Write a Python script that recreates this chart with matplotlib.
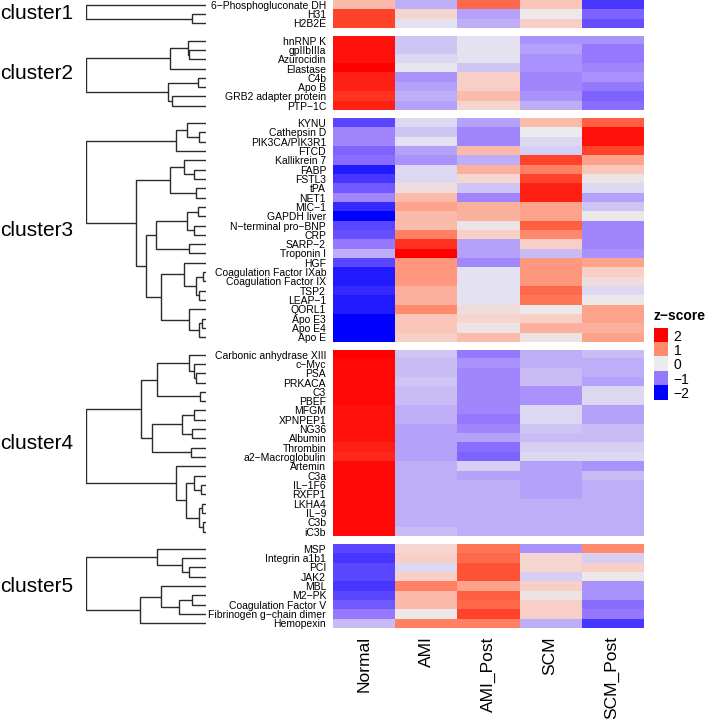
import numpy as np
import matplotlib
matplotlib.use("Agg")
import matplotlib.pyplot as plt
from matplotlib.colors import LinearSegmentedColormap, Normalize

plt.rcParams['font.family'] = ['Liberation Sans', 'DejaVu Sans']

# ---- data ----
groups = ["Normal", "AMI", "AMI_Post", "SCM", "SCM_Post"]

cluster_names = ["cluster1", "cluster2", "cluster3", "cluster4", "cluster5"]

rows_c1 = ["6−Phosphogluconate DH", "H31", "H2B2E"]
vals_c1 = [[0.6, -0.6, 1.3, 0.5, -1.6],
           [1.6, 0.3, -0.7, 0.05, -1.2],
           [1.6, -0.1, -0.6, 0.4, -1.4]]

rows_c2 = ["hnRNP K", "gpIIbIIIa", "Azurocidin", "Elastase", "C4b", "Apo B",
           "GRB2 adapter protein", "PTP−1C"]
vals_c2 = [[1.9, -0.4, -0.1, -0.8, -0.8],
           [1.9, -0.4, -0.1, -0.7, -1.0],
           [1.9, -0.2, -0.1, -0.8, -1.0],
           [2.0, -0.05, -0.4, -0.8, -0.9],
           [1.8, -0.8, 0.4, -0.9, -0.8],
           [1.8, -0.7, 0.4, -0.9, -1.0],
           [1.7, -0.6, 0.6, -0.8, -1.2],
           [1.8, -0.7, 0.3, -0.6, -1.1]]

rows_c3 = ["KYNU", "Cathepsin D", "PIK3CA/PIK3R1", "FTCD", "Kallikrein 7", "FABP",
           "FSTL3", "tPA", "NET1", "MIC−1", "GAPDH liver", "N−terminal pro−BNP", "CRP",
           "SARP−2", "Troponin I", "HGF", "Coagulation Factor IXab",
           "Coagulation Factor IX", "TSP2", "LEAP−1", "QORL1", "Apo E3", "Apo E4", "Apo E"]
vals_c3 = [[-1.5, -0.2, -0.7, 0.6, 1.4],
           [-0.9, -0.4, -0.9, 0.0, 1.9],
           [-0.9, -0.1, -0.9, -0.2, 1.9],
           [-1.2, -0.7, 0.6, -0.3, 1.6],
           [-1.1, -0.8, -0.6, 1.6, 0.8],
           [-1.8, -0.2, 0.7, 1.1, 0.5],
           [-1.6, -0.2, 0.3, 1.6, 0.1],
           [-1.3, 0.2, -0.4, 1.8, -0.2],
           [-0.9, 0.6, -0.9, 1.8, -0.7],
           [-1.7, 0.8, 0.7, 0.8, -0.4],
           [-2.0, 0.6, 0.7, 0.8, 0.05],
           [-1.5, 0.6, 0.1, 1.4, -0.9],
           [-1.4, 1.1, 0.4, 1.0, -0.9],
           [-1.0, 1.7, -0.7, 0.4, -0.9],
           [-0.6, 2.0, -0.7, -0.5, -0.8],
           [-1.5, 0.9, -0.9, 0.9, 0.8],
           [-1.8, 0.9, -0.1, 0.9, 0.4],
           [-1.8, 0.9, -0.1, 0.9, 0.2],
           [-1.7, 0.7, -0.1, 1.3, -0.2],
           [-1.8, 0.7, -0.1, 1.2, 0.05],
           [-1.8, 1.0, 0.2, 0.05, 0.8],
           [-2.0, 0.5, 0.3, 0.4, 0.8],
           [-2.0, 0.5, 0.1, 0.7, 0.7],
           [-2.0, 0.4, 0.6, 0.1, 0.8]]

rows_c4 = ["Carbonic anhydrase XIII", "c−Myc", "PSA", "PRKACA", "C3", "PBEF", "MFGM",
           "XPNPEP1", "NG36", "Albumin", "Thrombin", "a2−Macroglobulin", "Artemin", "C3a",
           "IL−1F6", "RXFP1", "LKHA4", "IL−9", "C3b", "iC3b"]
vals_c4 = [[2.0, -0.4, -1.0, -0.6, -0.5],
           [1.95, -0.5, -0.8, -0.6, -0.6],
           [1.95, -0.5, -0.9, -0.5, -0.6],
           [1.95, -0.4, -0.9, -0.5, -0.7],
           [1.95, -0.5, -0.9, -0.8, -0.2],
           [1.95, -0.5, -0.9, -0.8, -0.2],
           [1.9, -0.6, -0.9, -0.2, -0.7],
           [1.9, -0.6, -1.0, -0.2, -0.7],
           [1.9, -0.7, -0.9, -0.4, -0.5],
           [1.9, -0.7, -0.7, -0.5, -0.5],
           [1.8, -0.7, -1.1, -0.3, -0.3],
           [1.75, -0.7, -1.2, -0.2, -0.2],
           [1.95, -0.6, -0.3, -0.7, -0.8],
           [1.95, -0.6, -0.7, -0.7, -0.5],
           [1.95, -0.6, -0.6, -0.7, -0.6],
           [1.95, -0.6, -0.6, -0.7, -0.6],
           [1.95, -0.6, -0.6, -0.6, -0.6],
           [1.95, -0.6, -0.6, -0.6, -0.6],
           [1.95, -0.6, -0.6, -0.6, -0.6],
           [1.95, -0.5, -0.6, -0.6, -0.6]]

rows_c5 = ["MSP", "Integrin a1b1", "PCI", "JAK2", "MBL", "M2−PK", "Coagulation Factor V",
           "Fibrinogen g−chain dimer", "Hemopexin"]
vals_c5 = [[-1.5, 0.3, 1.2, -0.8, 1.0],
           [-1.6, 0.4, 1.3, 0.3, -0.3],
           [-1.5, -0.2, 1.5, 0.3, 0.4],
           [-1.5, 0.4, 1.5, -0.3, 0.05],
           [-1.6, 1.1, 0.8, 0.4, -0.8],
           [-1.5, 0.6, 1.4, 0.1, -0.8],
           [-1.3, 0.6, 1.3, 0.4, -1.1],
           [-1.0, 0.05, 1.6, 0.4, -1.0],
           [-0.5, 1.1, 1.1, -0.6, -1.6]]

# dendrograms: (merge height, left, right); ints are leaf rows
tree_c1 = (1.0, 0, (0.12, 1, 2))
tree_c2 = (1.0, (0.30, (0.15, 0, (0.14, 1, 2)), 3),
           (0.32, (0.07, 4, 5), (0.28, 6, 7)))
tree_c3 = (1.0,
           (0.25, (0.16, 0, (0.055, 1, 2)), 3),
           (0.58,
            (0.30, (0.185, 4, (0.10, 5, 6)), (0.083, 7, 8)),
            (0.50,
             (0.42, (0.157, (0.064, 9, 10), (0.10, 11, 12)), (0.138, 13, 14)),
             (0.373, (0.18, 15, (0.083, (0.028, 16, 17), (0.055, 18, 19))),
              (0.144, 20, (0.061, (0.033, 21, 22), 23))))))
tree_c4 = (1.0,
           (0.54, (0.41, (0.138, 0, (0.10, 1, (0.083, 2, 3))), (0.047, 4, 5)),
            (0.45, (0.20, (0.10, 6, 7), (0.116, 8, 9)), (0.124, 10, 11))),
           (0.254, 12, (0.166, (0.10, 13, (0.041, 14, 15)),
                        (0.061, (0.036, 16, 17), (0.028, 18, 19)))))
tree_c5 = (1.0, (0.41, 0, (0.20, 1, (0.144, 2, 3))),
           (0.55, (0.373, 4, (0.229, (0.116, 5, 6), 7)), 8))

legend_vals = [2, 1, 0, -1, -2]

clusters = [(rows_c1, vals_c1, tree_c1), (rows_c2, vals_c2, tree_c2),
            (rows_c3, vals_c3, tree_c3), (rows_c4, vals_c4, tree_c4),
            (rows_c5, vals_c5, tree_c5)]

# ---- style ----
# extra stops make the ramp lighter in between, like a LAB colour ramp
cmap = LinearSegmentedColormap.from_list(
    "zs", [(0.0, "#0000FF"), (0.125, "#5A46FF"), (0.25, "#9678FF"),
           (0.375, "#C9BCF6"), (0.5, "#EBEBEF"), (0.625, "#FAC8BC"),
           (0.75, "#FF8C6E"), (0.875, "#FF5536"), (1.0, "#FF0000")])
norm = Normalize(-2, 2)

W, H = 708, 719
fig = plt.figure(figsize=(W / 100, H / 100), dpi=100)


def px_axes(x0, y0, x1, y1):
    return fig.add_axes([x0 / W, 1 - y1 / H, (x1 - x0) / W, (y1 - y0) / H])


def draw_tree(ax, node):
    # returns (y, height) of node
    if isinstance(node, int):
        return node + 0.5, 0.0
    h, a, b = node
    ya, ha = draw_tree(ax, a)
    yb, hb = draw_tree(ax, b)
    ax.plot([ha, h, h, hb], [ya, ya, yb, yb], color="#2b2b2b", lw=1.0,
            solid_capstyle="butt", solid_joinstyle="miter")
    return (ya + yb) / 2, h


hm_left, hm_right = 333, 643
dend_left, dend_right = 86, 206
row_h = (628 - 4 * 8) / 64
gap = 8

top = 0.0
for ci, (rows, vals, tree) in enumerate(clusters):
    n = len(rows)
    bottom = top + n * row_h
    ax = px_axes(hm_left, top, hm_right, bottom)
    ax.imshow(np.array(vals), cmap=cmap, norm=norm, aspect="auto",
              interpolation="nearest", extent=(0, len(groups), n, 0))
    ax.set_xlim(0, len(groups))
    ax.set_ylim(n, 0)
    ax.set_yticks(np.arange(n) + 0.5)
    ax.set_yticklabels(rows, fontsize=7.5)
    ax.tick_params(axis="y", length=0, pad=5)
    if ci == len(clusters) - 1:
        ax.set_xticks(np.arange(len(groups)) + 0.5)
        ax.set_xticklabels(groups, rotation=90, fontsize=12.5, va="top")
        ax.tick_params(axis="x", length=0, pad=6)
    else:
        ax.set_xticks([])
    for s in ax.spines.values():
        s.set_visible(False)

    dax = px_axes(dend_left, top, dend_right, bottom)
    draw_tree(dax, tree)
    dax.set_xlim(1.0, 0.0)
    dax.set_ylim(n, 0)
    dax.axis("off")

    fig.text(0.0, 1 - (top + bottom) / 2 / H, cluster_names[ci], fontsize=15,
             ha="left", va="center")
    top = bottom + gap

# legend
lax = px_axes(654, 328, 668, 400)
lax.imshow(np.array(legend_vals).reshape(-1, 1), cmap=cmap, norm=norm,
           aspect="auto", interpolation="nearest")
lax.set_xticks([])
lax.set_yticks(range(len(legend_vals)))
lax.set_yticklabels([str(v).replace("-", "−") for v in legend_vals], fontsize=10)
lax.yaxis.tick_right()
lax.tick_params(axis="y", length=0, pad=4)
for s in lax.spines.values():
    s.set_visible(False)
fig.text(653 / W, 1 - 316 / H, "z−score", fontsize=10, fontweight="bold",
         ha="left", va="center")

fig.savefig("out.png", dpi=100)
